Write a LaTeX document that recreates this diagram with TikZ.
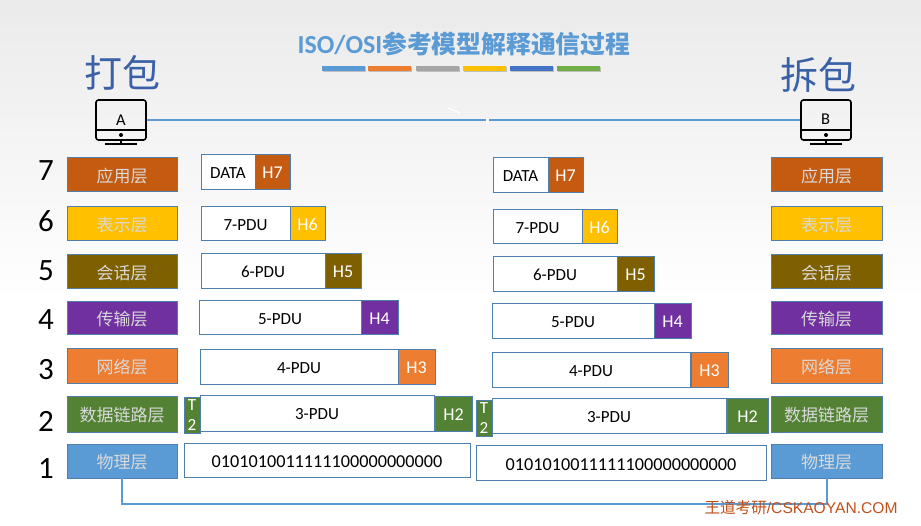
\documentclass[tikz,border=0pt]{standalone}
\usepackage{fontspec}
\setmainfont{Carlito}
\newfontfamily\cjk{Noto Sans CJK SC}
\newfontfamily\wm{Liberation Sans}
\definecolor{cApp}{HTML}{C55A11}
\definecolor{cPre}{HTML}{FFC000}
\definecolor{cSes}{HTML}{7F6000}
\definecolor{cTra}{HTML}{7030A0}
\definecolor{cNet}{HTML}{ED7D31}
\definecolor{cDat}{HTML}{548235}
\definecolor{cPhy}{HTML}{5B9BD5}
\definecolor{cEdge}{HTML}{4F7FAE}
\definecolor{cBar}{HTML}{A5A5A5}
\definecolor{cBarB}{HTML}{4472C4}
\definecolor{cBarG}{HTML}{70AD47}
\definecolor{cWm}{HTML}{C0501A}
\tikzset{
  box/.style={draw=cEdge,line width=1pt,inner sep=0pt,outer sep=0pt},
  layerbox/.style={box,text=white!85!black,font=\cjk\fontsize{17}{19}\selectfont,text height=16pt,text depth=1.5pt},
  pdubox/.style={box,fill=white,text=black,font=\fontsize{17}{19}\selectfont,text height=13pt,text depth=0pt},
  binbox/.style={box,fill=white,text=black,font=\fontsize{18.2}{20}\selectfont,text height=15pt,text depth=0pt},
  hdrbox/.style={box,text=white,font=\fontsize{18}{20}\selectfont,text height=13pt,text depth=0pt},
  trailer/.style={box,fill=cDat,text=white,font=\fontsize{17}{20}\selectfont,align=center},
  numlabel/.style={text=black,font=\fontsize{31}{33}\selectfont,inner sep=0pt},
  link/.style={draw=cPhy,line width=2pt},
  screen/.style={draw=black,line width=1.6pt,rounded corners=2.5pt,minimum width=50pt,minimum height=40pt,inner sep=0pt},
  bignote/.style={font=\cjk\fontsize{38}{40}\selectfont,inner sep=0pt},
  bar/.style={inner sep=0pt,minimum width=43pt,minimum height=5pt}
}
% name, x1, y1, x2, y2, style, text
\newcommand{\bx}[7]{%
  \pgfmathsetmacro{\bxw}{#4-#2}\pgfmathsetmacro{\bxh}{#5-#3}%
  \pgfmathsetmacro{\bxx}{(#2+#4)/2}\pgfmathsetmacro{\bxy}{(#3+#5)/2}%
  \node[#6,minimum width=\bxw pt,minimum height=\bxh pt] (#1) at (\bxx,\bxy) {#7};}
\begin{document}
\begin{tikzpicture}[x=1pt,y=-1pt]
\useasboundingbox (0,0) rectangle (921,526);
\fill[white] (0,0) rectangle (921,526);
\shade[top color=black!8,bottom color=white] (0,0) rectangle (921,300);
% title
\node[inner sep=0pt,text=cPhy,font=\bfseries\fontsize{26}{28}\selectfont] (title) at (464,44) {ISO/OSI{\cjk\bfseries\fontsize{24.8}{28}\selectfont 参考模型解释通信过程}};
\foreach \n/\cx/\c in {b1/343.5/cPhy,b2/389.5/cNet,b3/437.5/cBar,b4/484.5/cPre,b5/531.5/cBarB,b6/578.5/cBarG}{
  \node[bar,fill=black!25] (\n s) at (\cx+0.7,69.5) {};
  \node[bar,fill=\c] (\n) at (\cx,68.5) {};
}
% headings
\node[bignote,text=cBarB!85!black] (pack) at (122.5,73) {打包};
\node[bignote,text=cBarB!85!black] (unpack) at (818,75) {拆包};
% hosts
\node[screen] (A) at (121,120) {};
\node[inner sep=0pt,font=\fontsize{16.5}{18}\selectfont] (Alabel) at (121,120.5) {A};
\node[screen] (B) at (826,120) {};
\node[inner sep=0pt,font=\fontsize{16.5}{18}\selectfont] (Blabel) at (825.5,119.5) {B};
\foreach \h/\cx in {A/121,B/826}{
  \draw[line width=1.6pt] (\cx-25,130) -- (\cx+25,130);
  \fill (\cx,135) circle (2pt);
  \draw[line width=1.6pt] (\cx,140) -- (\cx,144);
  \draw[line width=1.6pt] (\cx-16,144) -- (\cx+16,144);
}
\draw[link] (A.east) -- (B.west);
\draw[white,line width=2.4pt] (487.5,118) -- (487.5,124);
\draw[white,line width=1.2pt] (448,108) -- (460,113);
% layer numbers
\node[numlabel] (n7) at (46,171) {7};
\node[numlabel] (n6) at (46,221) {6};
\node[numlabel] (n5) at (46,271) {5};
\node[numlabel] (n4) at (46,320) {4};
\node[numlabel] (n3) at (46,370) {3};
\node[numlabel] (n2) at (46,421) {2};
\node[numlabel] (n1) at (46,469) {1};
% layer boxes
\foreach \k/\ya/\yb/\c/\t in {7/158/192/cApp/应用层,6/207/241/cPre/表示层,5/255/289/cSes/会话层,4/302/335/cTra/传输层,3/349/384/cNet/网络层,2/397/432/cDat/数据链路层,1/444/478/cPhy/物理层}{
  \bx{L\k}{67}{\ya}{177}{\yb}{layerbox,fill=\c}{\t}
  \bx{R\k}{771}{\ya}{882}{\yb}{layerbox,fill=\c}{\t}
}
% left stack
\bx{lp7}{201}{155}{255}{190}{pdubox}{DATA}
\bx{lh7}{255}{155}{290}{190}{hdrbox,fill=cApp}{H7}
\bx{lp6}{201}{207}{290}{241}{pdubox}{7-PDU}
\bx{lh6}{290}{207}{325}{241}{hdrbox,fill=cPre}{H6}
\bx{lp5}{201}{254}{325}{289}{pdubox}{6-PDU}
\bx{lh5}{325}{254}{361}{289}{hdrbox,fill=cSes}{H5}
\bx{lp4}{199}{301}{361}{335}{pdubox}{5-PDU}
\bx{lh4}{361}{301}{398}{335}{hdrbox,fill=cTra}{H4}
\bx{lp3}{200}{350}{398}{385}{pdubox}{4-PDU}
\bx{lh3}{398}{350}{435}{385}{hdrbox,fill=cNet}{H3}
\bx{lt2}{184}{398}{200}{433}{trailer}{T\\2}
\bx{lp2}{200}{396}{434}{431}{pdubox}{3-PDU}
\bx{lh2}{435}{397}{472}{431}{hdrbox,fill=cDat}{H2}
\bx{lp1}{184}{443}{470}{477}{binbox}{0101010011111100000000000}
% right stack
\bx{rp7}{493}{158}{548}{193}{pdubox}{DATA}
\bx{rh7}{548}{158}{583}{193}{hdrbox,fill=cApp}{H7}
\bx{rp6}{493}{210}{582}{244}{pdubox}{7-PDU}
\bx{rh6}{582}{210}{617}{244}{hdrbox,fill=cPre}{H6}
\bx{rp5}{493}{257}{617}{292}{pdubox}{6-PDU}
\bx{rh5}{617}{257}{654}{292}{hdrbox,fill=cSes}{H5}
\bx{rp4}{492}{304}{654}{339}{pdubox}{5-PDU}
\bx{rh4}{654}{304}{691}{339}{hdrbox,fill=cTra}{H4}
\bx{rp3}{492}{353}{690}{388}{pdubox}{4-PDU}
\bx{rh3}{691}{353}{728}{388}{hdrbox,fill=cNet}{H3}
\bx{rt2}{476}{401}{492}{436}{trailer}{T\\2}
\bx{rp2}{492}{399}{726}{433}{pdubox}{3-PDU}
\bx{rh2}{727}{399}{768}{433}{hdrbox,fill=cDat}{H2}
\bx{rp1}{476}{445}{766}{480}{binbox}{0101010011111100000000000}
% physical link
\coordinate (corner) at (122,504);
\draw[link] (L1.south) |- (R1.south |- corner) -- (R1.south);
% watermark
\node[inner sep=0pt,text=cWm,font=\wm\fontsize{15.6}{17}\selectfont] (mark) at (801,507.5) {{\cjk 王道考研}/CSKAOYAN.COM};
\end{tikzpicture}
\end{document}
